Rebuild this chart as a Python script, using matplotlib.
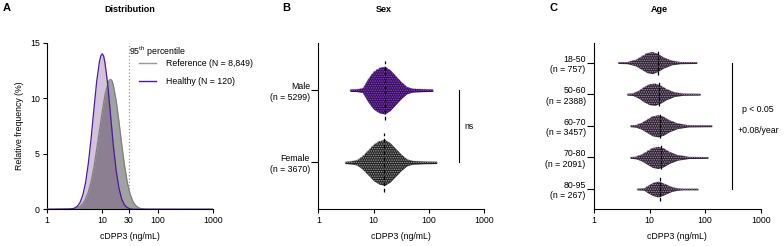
import numpy as np
import matplotlib
matplotlib.use("Agg")
import matplotlib.pyplot as plt
from matplotlib.lines import Line2D

plt.rcParams["font.family"] = ["Liberation Sans", "DejaVu Sans"]
plt.rcParams["mathtext.fontset"] = "custom"
plt.rcParams["mathtext.rm"] = "Liberation Sans"
plt.rcParams["font.size"] = 6.3

# ---------------------------------------------------------------
# Panel A: relative frequency curves (x in ng/mL, y in %)
# ---------------------------------------------------------------
ref_x = [1, 3.16, 3.55, 3.98, 4.47, 5.01, 5.62, 6.31, 7.08, 7.94, 8.91, 10.0, 11.2, 12.6,
         13.3, 14.1, 15.0, 15.8, 17.8, 20.0, 22.4, 25.1, 28.2, 31.6, 35.5, 39.8, 44.7,
         50.1, 56.2, 63.1, 1000]
ref_y = [0, 0.06, 0.13, 0.27, 0.51, 0.93, 1.58, 2.5, 3.8, 5.4, 7.1, 8.8, 10.3, 11.3,
         11.6, 11.7, 11.57, 11.2, 9.8, 7.9, 5.86, 4.0, 2.46, 1.4, 0.73, 0.35, 0.15,
         0.06, 0.02, 0, 0]
healthy_x = [1, 2.51, 2.82, 3.16, 3.55, 3.98, 4.47, 5.01, 5.62, 6.31, 7.08, 7.94, 8.91,
             9.44, 10.0, 10.6, 11.2, 12.6, 14.1, 15.8, 17.8, 20.0, 22.4, 25.1, 28.2,
             31.6, 35.5, 1000]
healthy_y = [0, 0.01, 0.04, 0.1, 0.27, 0.6, 1.28, 2.4, 4.13, 6.4, 9.0, 11.5, 13.3,
             13.83, 14.0, 13.81, 13.2, 11.2, 8.5, 5.8, 3.5, 1.9, 0.92, 0.4, 0.15,
             0.05, 0.01, 0]
p95 = 30
legend_labels = ["Reference (N = 8,849)", "Healthy (N = 120)"]

# ---------------------------------------------------------------
# Panel B: sex swarms (log10 cDPP3 profile, relative width)
# ---------------------------------------------------------------
sex_labels = ["Female\n(n = 3670)", "Male\n(n = 5299)"]
male_lx = [0.57, 0.7, 0.8, 0.85, 0.9, 1.0, 1.1, 1.2, 1.3, 1.4, 1.5, 1.6, 1.7, 1.9, 2.07]
male_w = [0.05, 0.06, 0.1, 0.3, 0.5, 0.8, 0.95, 1.0, 0.85, 0.6, 0.35, 0.15, 0.08, 0.06, 0.05]
female_lx = [0.48, 0.6, 0.7, 0.8, 0.9, 1.0, 1.1, 1.2, 1.3, 1.4, 1.5, 1.6, 1.7, 1.9, 2.14]
female_w = [0.05, 0.07, 0.12, 0.3, 0.55, 0.8, 0.95, 1.0, 0.85, 0.6, 0.35, 0.15, 0.08, 0.06, 0.05]
sex_medians = [15.6, 16.0]

# ---------------------------------------------------------------
# Panel C: age swarms
# ---------------------------------------------------------------
age_labels = ["80-95\n(n = 267)", "70-80\n(n = 2091)", "60-70\n(n = 3457)",
              "50-60\n(n = 2388)", "18-50\n(n = 757)"]
age_lx = [
    [0.77, 0.9, 0.95, 1.05, 1.15, 1.2, 1.3, 1.4, 1.5, 1.6, 1.87],
    [0.65, 0.75, 0.85, 0.95, 1.05, 1.15, 1.25, 1.35, 1.5, 1.7, 2.05],
    [0.65, 0.75, 0.85, 0.95, 1.05, 1.15, 1.25, 1.35, 1.5, 1.7, 2.12],
    [0.59, 0.7, 0.8, 0.9, 1.0, 1.1, 1.2, 1.3, 1.45, 1.6, 1.91],
    [0.43, 0.6, 0.75, 0.85, 0.95, 1.05, 1.15, 1.25, 1.4, 1.55, 1.85],
]
age_w = [
    [0.1, 0.15, 0.4, 0.8, 1.0, 0.9, 0.6, 0.3, 0.15, 0.1, 0.1],
    [0.08, 0.12, 0.3, 0.6, 0.9, 1.0, 0.85, 0.55, 0.25, 0.1, 0.08],
    [0.08, 0.12, 0.3, 0.6, 0.9, 1.0, 0.85, 0.55, 0.25, 0.1, 0.08],
    [0.08, 0.12, 0.35, 0.7, 0.95, 1.0, 0.8, 0.5, 0.2, 0.1, 0.08],
    [0.08, 0.1, 0.3, 0.6, 0.9, 1.0, 0.8, 0.5, 0.2, 0.1, 0.08],
]
age_medians = [15.5, 15.8, 15.5, 14.8, 14.1]

W, H = 784, 246
fig = plt.figure(figsize=(W / 100, H / 100), dpi=100)
axA = fig.add_axes([46.7 / W, 1 - 209.3 / H, 166.6 / W, 166.6 / H])
axB = fig.add_axes([318.3 / W, 1 - 209.3 / H, 166.0 / W, 166.0 / H])
axC = fig.add_axes([594.0 / W, 1 - 209.3 / H, 166.7 / W, 166.0 / H])


def style_axis(ax):
    for s in ["top", "right"]:
        ax.spines[s].set_visible(False)
    for s in ["left", "bottom"]:
        ax.spines[s].set_linewidth(0.8)
    ax.set_xscale("log")
    ax.set_xlim(1, 1000)
    ax.tick_params(axis="both", which="major", length=3, width=0.8, pad=2, labelsize=6.3)
    ax.tick_params(axis="x", which="minor", length=0)
    ax.set_xlabel("cDPP3 (ng/mL)", fontsize=6.3, labelpad=5)


def swarm(ax, center, lx, w, half, px_x, px_y, fill, dot):
    x = 10 ** np.asarray(lx)
    hw = np.asarray(w) * half
    poly = ax.fill_between(x, center - hw, center + hw, color=fill, lw=0, zorder=2)
    # dot texture clipped to the profile shape
    sx = 2.3 / px_x
    sy = 2.3 / px_y
    n = int(half / sy) + 2
    gx = np.arange(lx[0] - sx, lx[-1] + sx, sx)
    X, Y = [], []
    for k in range(-n, n + 1):
        X.append(gx + (k % 2) * sx / 2)
        Y.append(np.full(gx.size, center + k * sy))
    X = np.concatenate(X)
    Y = np.concatenate(Y)
    sc = ax.scatter(10 ** X, Y, s=1.3, c=dot, edgecolors="none", zorder=3)
    sc.set_clip_path(poly.get_paths()[0], ax.transData)


# --- Panel A ---
style_axis(axA)
axA.fill_between(ref_x, 0, ref_y, color="#a0a3a0", lw=0, zorder=1)
axA.fill_between(healthy_x, 0, healthy_y, color="#561869", alpha=0.26, lw=0, zorder=2)
axA.plot(ref_x, ref_y, color="#7f7f7f", lw=0.9, zorder=3)
axA.plot(healthy_x, healthy_y, color="#4a1aa0", lw=0.9, zorder=4)
axA.axvline(p95, color="#999999", ls=":", lw=0.9, zorder=0)
axA.set_ylim(0, 15)
axA.set_yticks([0, 5, 10, 15])
axA.set_xticks([1, 10, 30, 100, 1000])
axA.set_xticklabels(["1", "10", "30", "100", "1000"])
axA.set_ylabel("Relative frequency (%)", fontsize=6.3, labelpad=4)
axA.text(0.494, 0.944, r"95$^{\mathrm{th}}$ percentile", transform=axA.transAxes,
         ha="left", va="center", fontsize=6.3)
handles = [Line2D([], [], color="#999999", lw=1.0), Line2D([], [], color="#4a1aa0", lw=1.0)]
axA.legend(handles, legend_labels, loc="upper left", bbox_to_anchor=(0.556, 0.9),
           frameon=False, fontsize=6.3, handlelength=1.9, handletextpad=1.2,
           labelspacing=1.0, borderpad=0, borderaxespad=0)

# --- Panel B ---
style_axis(axB)
axB.set_ylim(-0.65, 1.65)
axB.set_xticks([1, 10, 100, 1000])
axB.set_xticklabels(["1", "10", "100", "1000"])
axB.set_yticks([0, 1])
axB.set_yticklabels(sex_labels)
axB.tick_params(axis="y", length=5, pad=1)
swarm(axB, 1, male_lx, male_w, 0.33, 55.3, 72.3, "#2e0f48", "#8438cc")
swarm(axB, 0, female_lx, female_w, 0.318, 55.3, 72.3, "#1c1c1c", "#8c8c8c")
for pos, med in enumerate(sex_medians):
    axB.plot([med, med], [pos - 0.41, pos + 0.41], color="black", ls=(0, (3, 2)), lw=0.9, zorder=4)
axB.plot([355, 355], [0, 1], color="black", lw=0.8, clip_on=False)
axB.text(431, 0.5, "ns", ha="left", va="center", fontsize=6.3, clip_on=False)

# --- Panel C ---
style_axis(axC)
axC.set_ylim(-0.64, 4.61)
axC.set_xticks([1, 10, 100, 1000])
axC.set_xticklabels(["1", "10", "100", "1000"])
axC.set_yticks(range(len(age_labels)))
axC.set_yticklabels(age_labels)
axC.tick_params(axis="y", length=5, pad=1)
for pos in range(len(age_labels)):
    half = 0.25 if pos == 0 else 0.35
    swarm(axC, pos, age_lx[pos], age_w[pos], half, 55.5, 31.6, "#2a1d2d", "#8f7d94")
    med = age_medians[pos]
    axC.plot([med, med], [pos - 0.38, pos + 0.38], color="black", ls=(0, (3, 1)), lw=0.9, zorder=4)
axC.plot([302, 302], [0, 4], color="black", lw=0.8, clip_on=False)
axC.text(890, 2.53, "p < 0.05", ha="center", va="center", fontsize=6.3, clip_on=False)
axC.text(890, 1.845, "+0.08/year", ha="center", va="center", fontsize=6.3, clip_on=False)

# titles and panel letters
fig.text(130 / W, 1 - 10 / H, "Distribution", ha="center", va="center", fontsize=6.5, fontweight="bold")
fig.text(384 / W, 1 - 10 / H, "Sex", ha="center", va="center", fontsize=6.5, fontweight="bold")
fig.text(659 / W, 1 - 10 / H, "Age", ha="center", va="center", fontsize=6.5, fontweight="bold")
for x, letter in [(3, "A"), (282, "B"), (550, "C")]:
    fig.text(x / W, 1 - 8 / H, letter, ha="left", va="center", fontsize=8, fontweight="bold")

fig.savefig("out.png", dpi=100)
